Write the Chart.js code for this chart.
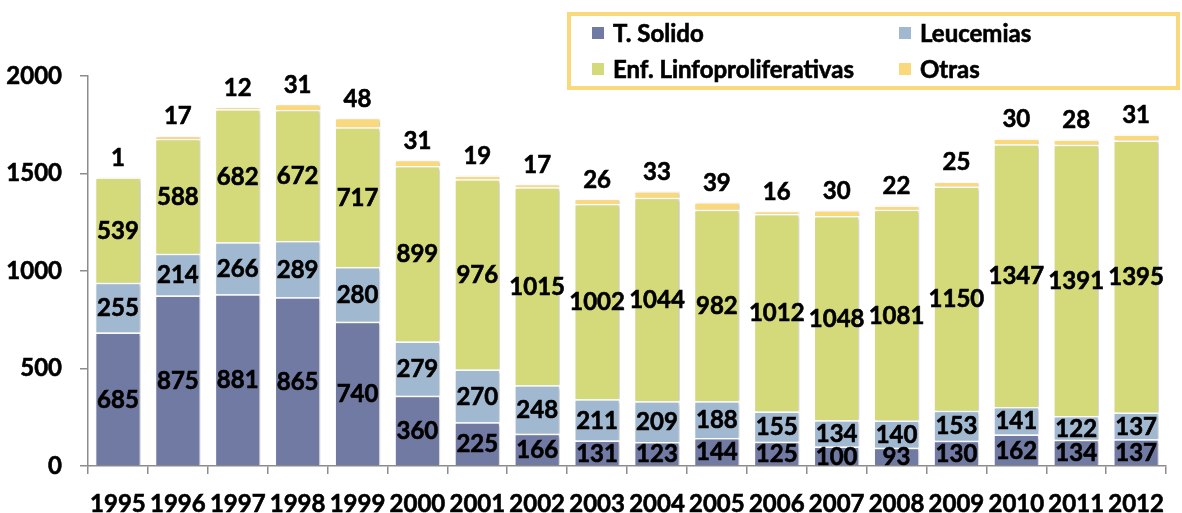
<!DOCTYPE html>
<html>
<head>
<meta charset="utf-8">
<script src="https://cdn.jsdelivr.net/npm/chart.js@4"></script>
<style>
  html, body { margin: 0; padding: 0; background: #ffffff; }
  #wrap { width: 1182px; height: 513px; position: relative; }
</style>
</head>
<body>
<div id="wrap"><canvas id="c" width="1182" height="513"></canvas></div>
<script>
const years = ['1995','1996','1997','1998','1999','2000','2001','2002','2003','2004','2005','2006','2007','2008','2009','2010','2011','2012'];
const tSolido = [685, 875, 881, 865, 740, 360, 225, 166, 131, 123, 144, 125, 100, 93, 130, 162, 134, 137];
const leucemias = [255, 214, 266, 289, 280, 279, 270, 248, 211, 209, 188, 155, 134, 140, 153, 141, 122, 137];
const enfLinfo = [539, 588, 682, 672, 717, 899, 976, 1015, 1002, 1044, 982, 1012, 1048, 1081, 1150, 1347, 1391, 1395];
const otras = [1, 17, 12, 31, 48, 31, 19, 17, 26, 33, 39, 16, 30, 22, 25, 30, 28, 31];
const seriesNames = ['T. Solido', 'Leucemias', 'Enf. Linfoproliferativas', 'Otras'];
const yTicks = [0, 500, 1000, 1500, 2000];

const colors = ['#707aa2', '#a1b9d0', '#d4d97a', '#f9d97c'];
const FONT = 'Lato, "DejaVu Sans", sans-serif';
const STROKE = 0.6;

const shadowPlugin = {
  id: 'shadow',
  beforeDatasetsDraw(chart) {
    const ctx = chart.ctx;
    ctx.save();
    ctx.shadowColor = 'rgba(0,0,0,0.22)';
    ctx.shadowBlur = 3;
    ctx.shadowOffsetX = 2;
    ctx.shadowOffsetY = 1;
  },
  afterDatasetsDraw(chart) {
    chart.ctx.restore();
  }
};

function boldText(ctx, s, x, y) {
  ctx.fillText(s, x, y);
  ctx.strokeText(s, x, y);
}

const labelsPlugin = {
  id: 'valueLabels',
  afterDatasetsDraw(chart) {
    const ctx = chart.ctx;
    ctx.save();
    ctx.font = 'bold 24px ' + FONT;
    ctx.fillStyle = '#000000';
    ctx.strokeStyle = '#000000';
    ctx.lineWidth = STROKE;
    ctx.textAlign = 'center';
    ctx.textBaseline = 'middle';
    chart.data.datasets.forEach((ds, di) => {
      const meta = chart.getDatasetMeta(di);
      meta.data.forEach((el, i) => {
        const v = ds.data[i];
        if (di === 3) {
          boldText(ctx, String(v), el.x, el.y - 19);
        } else {
          boldText(ctx, String(v), el.x, (el.y + el.base) / 2 + 1);
        }
      });
    });
    ctx.restore();
  }
};

const legendPlugin = {
  id: 'boxLegend',
  afterDraw(chart) {
    const ctx = chart.ctx;
    ctx.save();
    ctx.fillStyle = '#ffffff';
    ctx.fillRect(569, 14, 609, 74);
    ctx.strokeStyle = '#f9d97c';
    ctx.lineWidth = 4;
    ctx.strokeRect(569, 14, 609, 74);
    const pos = [[592, 33], [899, 33], [592, 69], [899, 69]];
    ctx.font = 'bold 24px ' + FONT;
    ctx.textAlign = 'left';
    ctx.textBaseline = 'middle';
    ctx.lineWidth = STROKE;
    ctx.strokeStyle = '#000000';
    chart.data.datasets.forEach((ds, i) => {
      const [x, y] = pos[i];
      ctx.fillStyle = ds.backgroundColor;
      ctx.fillRect(x, y - 6, 12, 12);
      ctx.fillStyle = '#000000';
      boldText(ctx, ds.label, x + 21, y + 1);
    });
    ctx.restore();
  }
};

const tickFont = { family: FONT, size: 24, weight: 'bold', lineHeight: 1 };
const seriesData = [tSolido, leucemias, enfLinfo, otras];
new Chart(document.getElementById('c'), {
  type: 'bar',
  data: {
    labels: years,
    datasets: seriesNames.map((name, i) => ({
      label: name,
      data: seriesData[i],
      backgroundColor: colors[i],
      borderColor: '#ffffff',
      borderWidth: { top: 1.5, bottom: 0, left: 1.2, right: 1.2 },
      borderSkipped: false,
      barPercentage: 0.76,
      categoryPercentage: 1.0
    }))
  },
  options: {
    responsive: false,
    animation: false,
    layout: { padding: { top: 76, right: 2, left: 0, bottom: 0 } },
    plugins: {
      legend: { display: false },
      tooltip: { enabled: false }
    },
    scales: {
      x: {
        stacked: true,
        offset: true,
        afterFit(scale) { scale.height = 47; },
        grid: { display: true, drawOnChartArea: false, offset: true, tickLength: 8, color: '#8c8c8c', lineWidth: 1.5 },
        border: { display: true, color: '#8c8c8c', width: 1.5 },
        ticks: { color: '#000000', font: tickFont, padding: 18, maxRotation: 0, autoSkip: false, textStrokeColor: '#000000', textStrokeWidth: STROKE }
      },
      y: {
        stacked: true,
        min: 0,
        max: 2000,
        afterBuildTicks(scale) { scale.ticks = yTicks.map(v => ({ value: v })); },
        afterFit(scale) { scale.width = 88; },
        grid: { display: true, drawOnChartArea: false, tickLength: 8, color: '#8c8c8c', lineWidth: 1.5 },
        border: { display: true, color: '#8c8c8c', width: 1.5 },
        ticks: { color: '#000000', font: tickFont, padding: 18, callback: v => String(v), textStrokeColor: '#000000', textStrokeWidth: STROKE }
      }
    }
  },
  plugins: [shadowPlugin, labelsPlugin, legendPlugin]
});
</script>
</body>
</html>
